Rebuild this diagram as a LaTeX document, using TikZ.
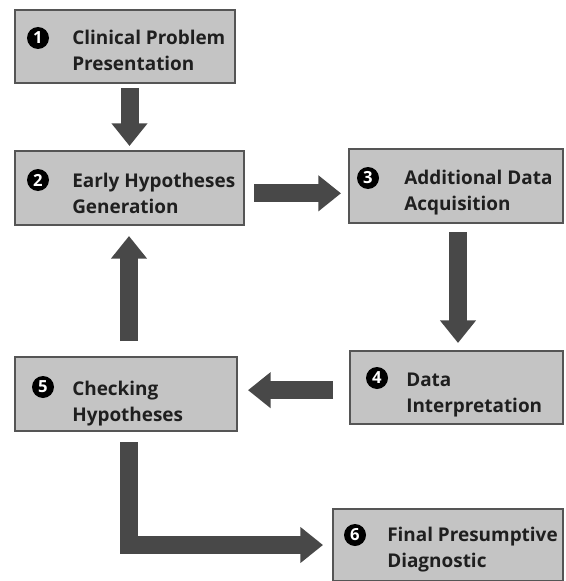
\documentclass[tikz,border=0pt]{standalone}
\usepackage{fontspec}
\setmainfont{Open Sans}
\usetikzlibrary{arrows.meta,positioning}

\definecolor{boxgray}{RGB}{196,196,196}
\definecolor{edgegray}{RGB}{85,85,85}
\definecolor{arrowgray}{RGB}{72,72,72}

\tikzset{
  stage/.style={draw=edgegray, line width=1.5pt, fill=boxgray,
    anchor=north west, inner sep=0pt},
  num/.style={circle, fill=black, text=white, inner sep=0pt,
    minimum size=16.5pt, font=\bfseries\fontsize{12.5}{12.5}\selectfont},
  caption/.style={anchor=base west, align=left, inner sep=0pt,
    font=\bfseries\fontsize{14.2}{19.5}\selectfont, text=black!88},
  flow/.style={arrowgray, line width=13.5pt,
    -{Triangle[length=17pt,width=26pt]}},
}

\begin{document}
\begin{tikzpicture}[x=0.75pt,y=-0.75pt]
\useasboundingbox (0,0) rectangle (566,581);

% Stages
\node[stage, minimum width=165pt, minimum height=54.75pt] (b1) at (14,9) {};
\node[stage, minimum width=171.75pt, minimum height=55.5pt] (b2) at (14,150) {};
\node[stage, minimum width=160.5pt, minimum height=55.5pt] (b3) at (348,148) {};
\node[stage, minimum width=159.75pt, minimum height=54.75pt] (b4) at (349,350) {};
\node[stage, minimum width=166.5pt, minimum height=55.5pt] (b5) at (14,356) {};
\node[stage, minimum width=172.5pt, minimum height=54pt] (b6) at (332,508) {};

% Numbers
\node[num] (n1) at (38,38) {1};
\node[num] (n2) at (38,180) {2};
\node[num] (n3) at (368,178) {3};
\node[num] (n4) at (377,378) {4};
\node[num] (n5) at (43,387) {5};
\node[num] (n6) at (355,535) {6};

% Texts (base = last line)
\node[caption] (t1) at (72,71) {Clinical Problem\\Presentation};
\node[caption] (t2) at (72,213) {Early Hypotheses\\Generation};
\node[caption] (t3) at (404,210) {Additional Data\\Acquisition};
\node[caption] (t4) at (406,412) {Data\\Interpretation};
\node[caption] (t5) at (72,421) {Checking\\Hypotheses};
\node[caption] (t6) at (387,567) {Final Presumptive\\Diagnostic};

% Flow
\draw[flow, shorten <=3pt, shorten >=3pt] (b2.north |- b1.south) -- (b2.north);
\draw[flow, shorten <=6.75pt, shorten >=5.25pt]
  ([yshift=-4pt]b2.east) -- ([yshift=-4pt]b2.east -| b3.west);
\draw[flow, shorten <=6pt, shorten >=5.25pt]
  ([xshift=1.5pt]b3.south) -- ([xshift=1.5pt]b3.south |- b4.north);
\draw[flow, shorten <=12pt, shorten >=7.5pt]
  ([yshift=-2pt]b4.west) -- ([yshift=-2pt]b4.west -| b5.east);
\draw[flow, shorten <=11.25pt, shorten >=7.5pt]
  ([xshift=2.25pt]b5.north) -- ([xshift=2.25pt]b5.north |- b2.south);
\draw[flow, shorten <=7.5pt, shorten >=6.75pt]
  ([xshift=2.25pt]b5.south) |- (b6.west);

\end{tikzpicture}
\end{document}
